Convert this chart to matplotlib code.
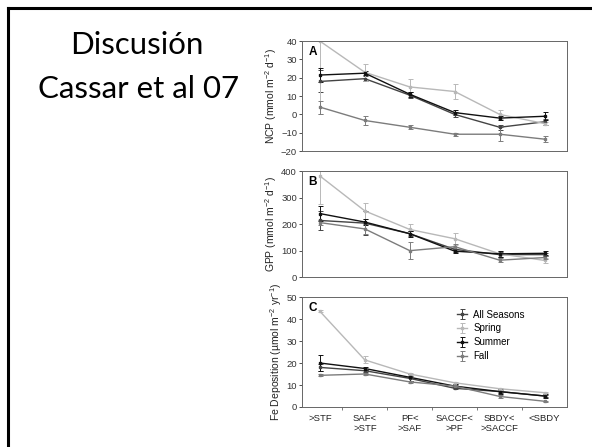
import numpy as np
import matplotlib
matplotlib.use("Agg")
import matplotlib.pyplot as plt
from matplotlib.lines import Line2D

plt.rcParams['font.family'] = ['Liberation Sans', 'DejaVu Sans']
plt.rcParams['mathtext.default'] = 'regular'

# categories (frontal zones)
zones = [">STF", "SAF<\n>STF", "PF<\n>SAF", "SACCF<\n>PF", "SBDY<\n>SACCF", "<SBDY"]
seasons = ["All Seasons", "Spring", "Summer", "Fall"]
colors = {"All Seasons": "#444444", "Spring": "#b8b8b8", "Summer": "#111111", "Fall": "#7c7c7c"}

# panel A - NCP (mmol m-2 d-1)
ncp = {
    "All Seasons": [18.0, 19.5, 10.5, 0.0, -7.0, -4.0],
    "Spring": [40.0, 23.0, 15.0, 12.5, 0.0, -5.0],
    "Summer": [21.5, 22.5, 11.0, 1.0, -2.0, -1.0],
    "Fall": [4.0, -3.3, -7.0, -10.8, -10.8, -13.5],
}
ncp_err = {
    "All Seasons": [6.0, 1.5, 1.5, 1.5, 1.5, 1.5],
    "Spring": [40.0, 4.5, 4.5, 4.0, 2.5, 1.0],
    "Summer": [3.8, 1.0, 1.5, 1.5, 1.0, 2.2],
    "Fall": [3.5, 2.5, 1.2, 0.8, 3.8, 1.5],
}

# panel B - GPP (mmol m-2 d-1)
gpp = {
    "All Seasons": [214, 204, 164, 105, 85, 85],
    "Spring": [382, 250, 180, 145, 88, 63],
    "Summer": [240, 208, 164, 98, 88, 90],
    "Fall": [206, 182, 100, 115, 64, 74],
}
gpp_err = {
    "All Seasons": [35, 45, 10, 10, 10, 6],
    "Spring": [105, 30, 20, 22, 12, 8],
    "Summer": [27, 12, 12, 8, 12, 8],
    "Fall": [10, 20, 32, 10, 8, 6],
}

# panel C - Fe deposition (umol m-2 yr-1)
fe = {
    "All Seasons": [18.0, 16.5, 13.0, 8.5, 7.0, 5.0],
    "Spring": [43.5, 21.4, 15.0, 11.0, 8.3, 6.5],
    "Summer": [20.0, 17.5, 13.5, 9.5, 7.0, 5.0],
    "Fall": [14.4, 15.0, 11.4, 9.5, 4.8, 2.6],
}
fe_err = {
    "All Seasons": [1.5, 0.5, 1.0, 0.5, 0.5, 0.5],
    "Spring": [0.5, 1.6, 0.5, 0.5, 0.5, 0.3],
    "Summer": [3.5, 0.5, 1.5, 1.0, 1.0, 1.0],
    "Fall": [0.5, 0.5, 0.5, 0.5, 0.5, 0.3],
}

fig = plt.figure(figsize=(5.92, 4.47), dpi=100)

# slide border (runs off the right and bottom)
fig.add_artist(Line2D([8 / 592, 1.0], [1 - 8 / 447, 1 - 8 / 447], color="black", lw=2.2,
                      transform=fig.transFigure))
fig.add_artist(Line2D([8 / 592, 8 / 592], [0.0, 1 - 8 / 447], color="black", lw=2.2,
                      transform=fig.transFigure))

fig.text(137 / 592, 1 - 45 / 447, "Discusión", ha="center", va="center",
         fontsize=22.5, family=["Lato", "DejaVu Sans"])
fig.text(139 / 592, 1 - 89 / 447, "Cassar et al 07", ha="center", va="center",
         fontsize=22.5, family=["Lato", "DejaVu Sans"])

x = np.arange(len(zones))
panels = [
    ("A", ncp, ncp_err, (-20, 40), np.arange(-20, 41, 10), "NCP (mmol m$^{-2}$ d$^{-1}$)", [0.510, 0.662, 0.448, 0.246]),
    ("B", gpp, gpp_err, (0, 400), np.arange(0, 401, 100), "GPP (mmol m$^{-2}$ d$^{-1}$)", [0.510, 0.380, 0.448, 0.237]),
    ("C", fe, fe_err, (0, 50), np.arange(0, 51, 10), "Fe Deposition (µmol m$^{-2}$ yr$^{-1}$)", [0.510, 0.0895, 0.448, 0.246]),
]

for letter, vals, errs, ylim, yticks, ylabel, rect in panels:
    ax = fig.add_axes(rect)
    for s in seasons:
        ax.errorbar(x, vals[s], yerr=errs[s], color=colors[s], lw=1.0, marker="s",
                    markersize=2, capsize=1.8, elinewidth=0.7, capthick=0.7, label=s)
    ax.set_xlim(-0.4, 5.5)
    ax.set_ylim(*ylim)
    ax.set_yticks(yticks)
    ax.tick_params(axis="y", labelsize=6.8, length=2.5, width=0.6, pad=1, colors="#333333")
    ax.set_ylabel(ylabel, fontsize=7.5, labelpad=1.5, color="#222222")
    for sp in ax.spines.values():
        sp.set_color("#666666")
        sp.set_linewidth(0.7)
    ax.text(0.025, 0.9, letter, transform=ax.transAxes, fontsize=8.5, fontweight="bold",
            va="center", ha="left")
    if letter == "C":
        ax.set_xticks(x)
        ax.set_xticklabels(zones, fontsize=6.8, color="#222222")
        ax.tick_params(axis="x", which="major", length=0, pad=5)
        ax.set_xticks(x[:-1] + 0.5, minor=True)
        ax.tick_params(axis="x", which="minor", length=2.5, width=0.6, colors="#666666")
        ax.legend(loc="upper left", bbox_to_anchor=(0.565, 0.93), frameon=False, fontsize=7,
                  handlelength=1.1, handletextpad=0.6, labelspacing=0.4, borderpad=0)
    else:
        ax.set_xticks([])

fig.savefig("out.png", dpi=100)
